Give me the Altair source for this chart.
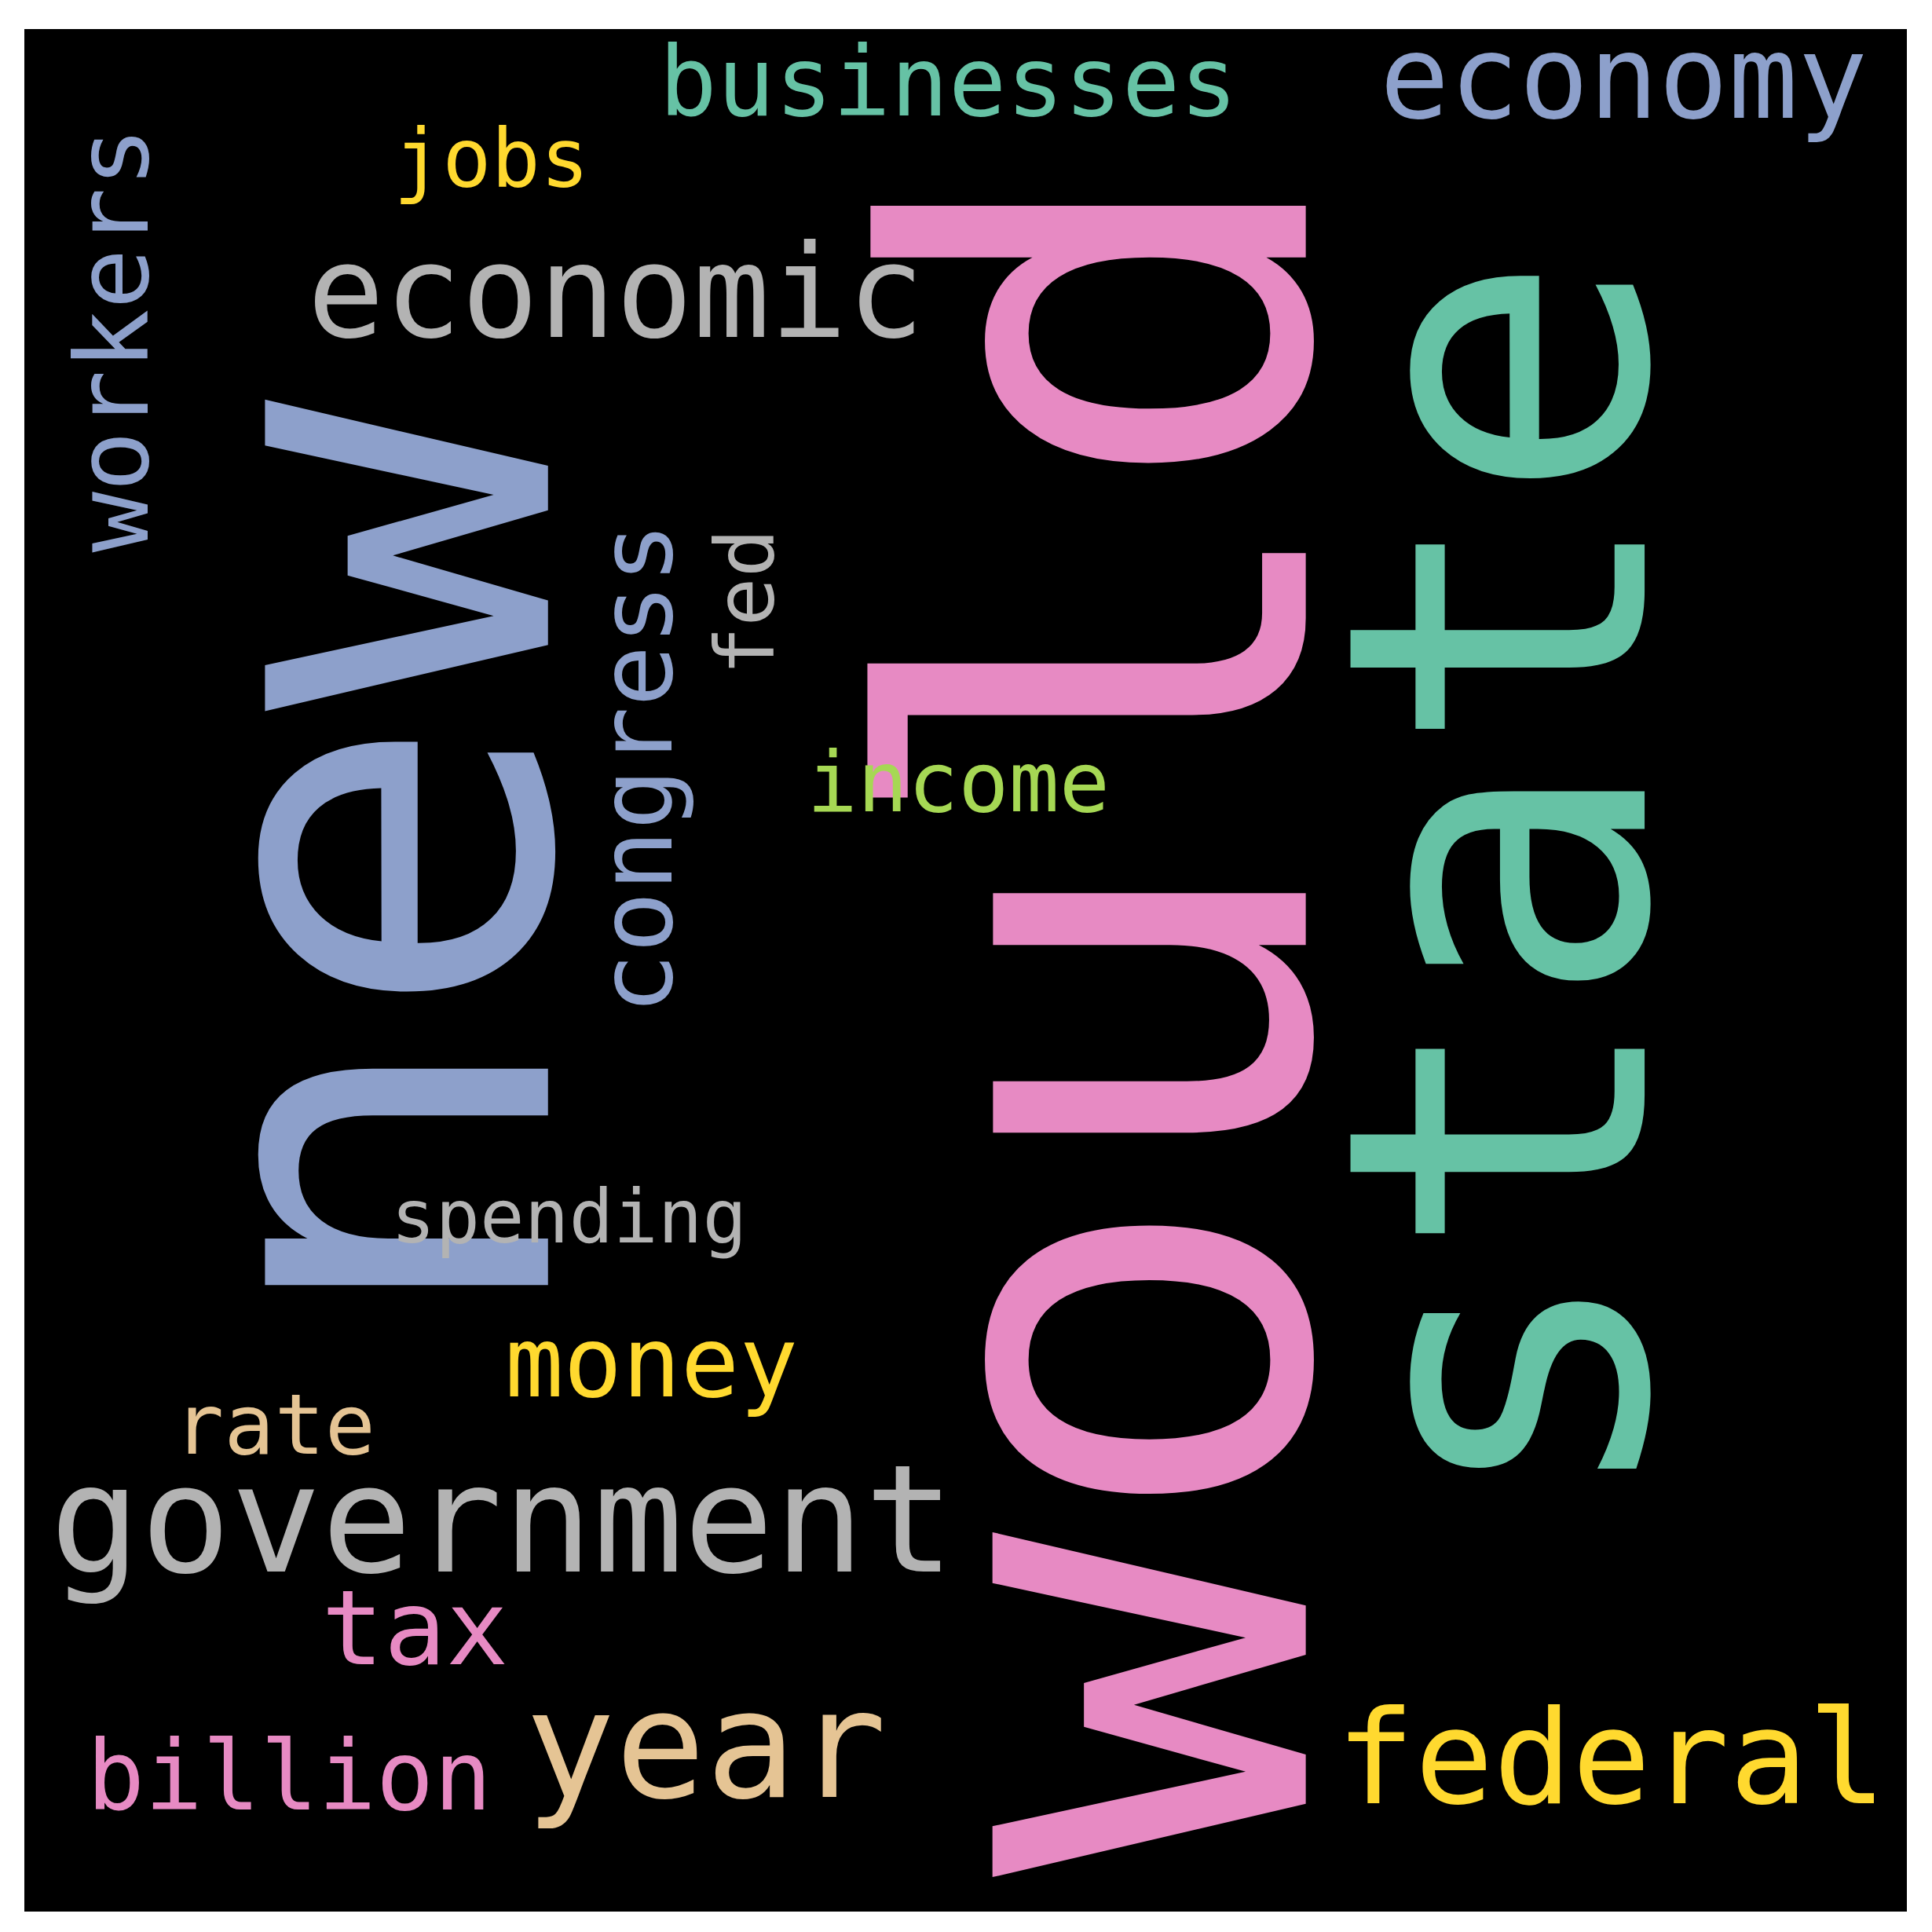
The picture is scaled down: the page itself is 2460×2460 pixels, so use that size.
import pandas as pd
import altair as alt

words = ["would", "state", "new", "economic", "businesses", "economy", "jobs",
         "workers", "congress", "fed", "income", "spending", "money", "rate",
         "government", "tax", "billion", "year", "federal"]
xs = [1060, 1335, 445, 500, 770, 1318, 399, 120, 545, 628, 778, 462, 529, 223,
      408, 337, 235, 573, 1308]
ys = [820, 712, 700, 270, 90, 92, 148, 272, 620, 485, 655, 1005, 1130, 1176,
      1272, 1347, 1465, 1455, 1460]
sizes = [465, 340, 420, 104, 78, 94, 66, 82, 83, 66, 68, 60, 79, 68, 122, 84, 78, 122, 106]
angles = [270, 270, 270, 0, 0, 0, 0, 270, 270, 270, 0, 0, 0, 0, 0, 0, 0, 0, 0]
colors = ["#e78ac3", "#66c2a5", "#8da0cb", "#b3b3b3", "#66c2a5", "#8da0cb", "#ffd92f",
          "#8da0cb", "#8da0cb", "#b3b3b3", "#a6d854", "#b3b3b3", "#ffd92f", "#e5c494",
          "#b3b3b3", "#e78ac3", "#e78ac3", "#e5c494", "#ffd92f"]

k = 2460 / 1568
df = pd.DataFrame({"word": words, "x": xs, "y": ys,
                   "size": [s * k for s in sizes], "angle": angles, "color": colors})

side = 1528 * k
xscale = alt.Scale(domain=[20, 1548], nice=False, zero=False)
yscale = alt.Scale(domain=[1548, 20], nice=False, zero=False)

bg = alt.Chart(pd.DataFrame({"x": [20], "x2": [1548], "y": [20], "y2": [1548]})).mark_rect(
    color="black"
).encode(
    x=alt.X("x:Q", axis=None, scale=xscale), x2="x2",
    y=alt.Y("y:Q", axis=None, scale=yscale), y2="y2",
)

text = alt.Chart(df).mark_text(
    font="DejaVu Sans Mono", align="center", baseline="alphabetic"
).encode(
    x=alt.X("x:Q", axis=None, scale=xscale),
    y=alt.Y("y:Q", axis=None, scale=yscale),
    text="word:N",
    size=alt.Size("size:Q", scale=None),
    angle=alt.Angle("angle:Q", scale=None),
    color=alt.Color("color:N", scale=None),
)

chart = (bg + text).properties(
    width=side, height=side,
    padding={"left": 23, "top": 23, "right": 0, "bottom": 0},
).configure_view(strokeWidth=0).configure(background="white")

chart.save("out.html", embed_options={"renderer": "svg", "actions": False})
